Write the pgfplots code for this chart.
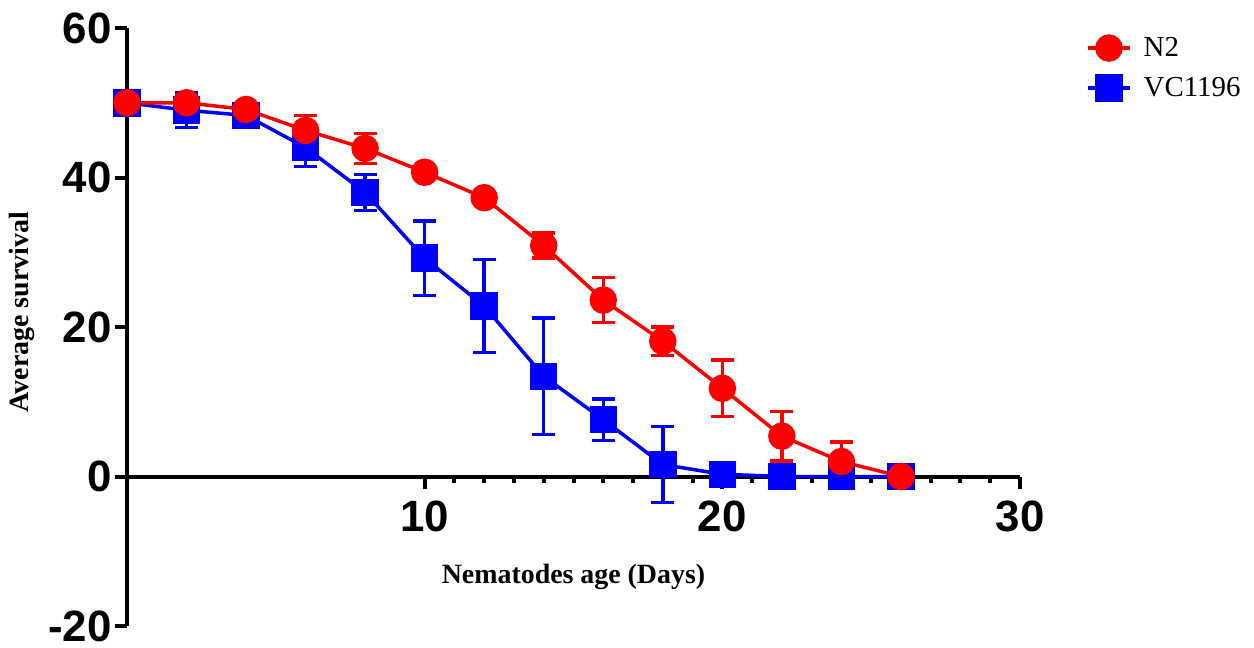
\documentclass[border=0pt]{standalone}
\usepackage{fontspec}
\setmainfont{Liberation Serif}
\setsansfont{Liberation Sans}
\usepackage{pgfplots}
\pgfplotsset{compat=1.18}
\definecolor{myred}{RGB}{255,0,0}
\definecolor{myblue}{RGB}{0,0,255}
\begin{document}
\begin{tikzpicture}
\useasboundingbox (-63.5bp,-11bp) rectangle (563.5bp,313bp);
\begin{axis}[
  scale only axis,
  width=446.5bp, height=299bp,
  xmin=0, xmax=30, ymin=-20, ymax=60,
  axis x line=middle, axis y line=left,
  x axis line style={-, line width=2bp},
  y axis line style={-, line width=2bp},
  xtick={10,20,30}, ytick={-20,0,20,40,60},
  minor x tick num=9,
  hide obscured y ticks=false,
  tick align=outside,
  major tick length=6bp, minor tick length=3bp,
  every tick/.style={black, line width=2bp},
  /pgf/number format/assume math mode=true,
  ticklabel style={font=\sffamily\bfseries\fontsize{22}{24}\selectfont, inner sep=0pt},
  yticklabel style={xshift=-1.5bp},
  xticklabel style={yshift=-6bp},
  xlabel={Nematodes age (Days)},
  ylabel={Average survival},
  label style={font=\bfseries\fontsize{14}{16}\selectfont},
  xlabel style={at={(axis description cs:0.5,0.082)}, anchor=center},
  ylabel style={at={(axis description cs:-0.118,0.525)}, anchor=center, rotate=0},
  legend style={draw=none, fill=none, at={(axis description cs:1.067,0.999)}, anchor=north west,
    font=\fontsize{14.5}{16}\selectfont, row sep=5bp,
    nodes={inner xsep=6bp}},
  legend cell align=left,
  reverse legend,
  legend image code/.code={\draw[mark repeat=2,mark phase=2] plot coordinates {(0cm,0cm) (0.37cm,0cm) (0.74cm,0cm)};},
  clip=false,
]
\addplot[myblue, line width=1.75bp, mark=square*, mark size=6bp, mark options={fill=myblue, draw=myblue},
  error bars/.cd, y dir=both, y explicit,
  error bar style={line width=1.75bp, myblue},
  error mark options={rotate=90, mark size=5.8bp, line width=1.75bp, myblue}]
  coordinates {
  (0,50) +- (0,0.5)
  (2,49) +- (0,2.3)
  (4,48.3) +- (0,0.8)
  (6,44) +- (0,2.5)
  (8,38) +- (0,2.4)
  (10,29.2) +- (0,5)
  (12,22.8) +- (0,6.2)
  (14,13.4) +- (0,7.8)
  (16,7.6) +- (0,2.8)
  (18,1.6) +- (0,5.1)
  (20,0.3) +- (0,0)
  (22,0) +- (0,0)
  (24,0) +- (0,0)
  (26,0) +- (0,0)
  };
\addlegendentry{VC1196}
\addplot[myred, line width=1.75bp, mark=*, mark size=6bp, mark options={fill=myred, draw=myred},
  error bars/.cd, y dir=both, y explicit,
  error bar style={line width=1.75bp, myred},
  error mark options={rotate=90, mark size=5.8bp, line width=1.75bp, myred}]
  coordinates {
  (0,50) +- (0,0.4)
  (2,50) +- (0,1.0)
  (4,49.1) +- (0,0.5)
  (6,46.3) +- (0,2)
  (8,43.9) +- (0,2)
  (10,40.7) +- (0,0.5)
  (12,37.3) +- (0,0.5)
  (14,30.9) +- (0,1.7)
  (16,23.6) +- (0,3)
  (18,18.1) +- (0,1.9)
  (20,11.8) +- (0,3.8)
  (22,5.4) +- (0,3.3)
  (24,2.0) +- (0,2.6)
  (26,0) +- (0,0)
  };
\addlegendentry{N2}
\end{axis}
\end{tikzpicture}
\end{document}
